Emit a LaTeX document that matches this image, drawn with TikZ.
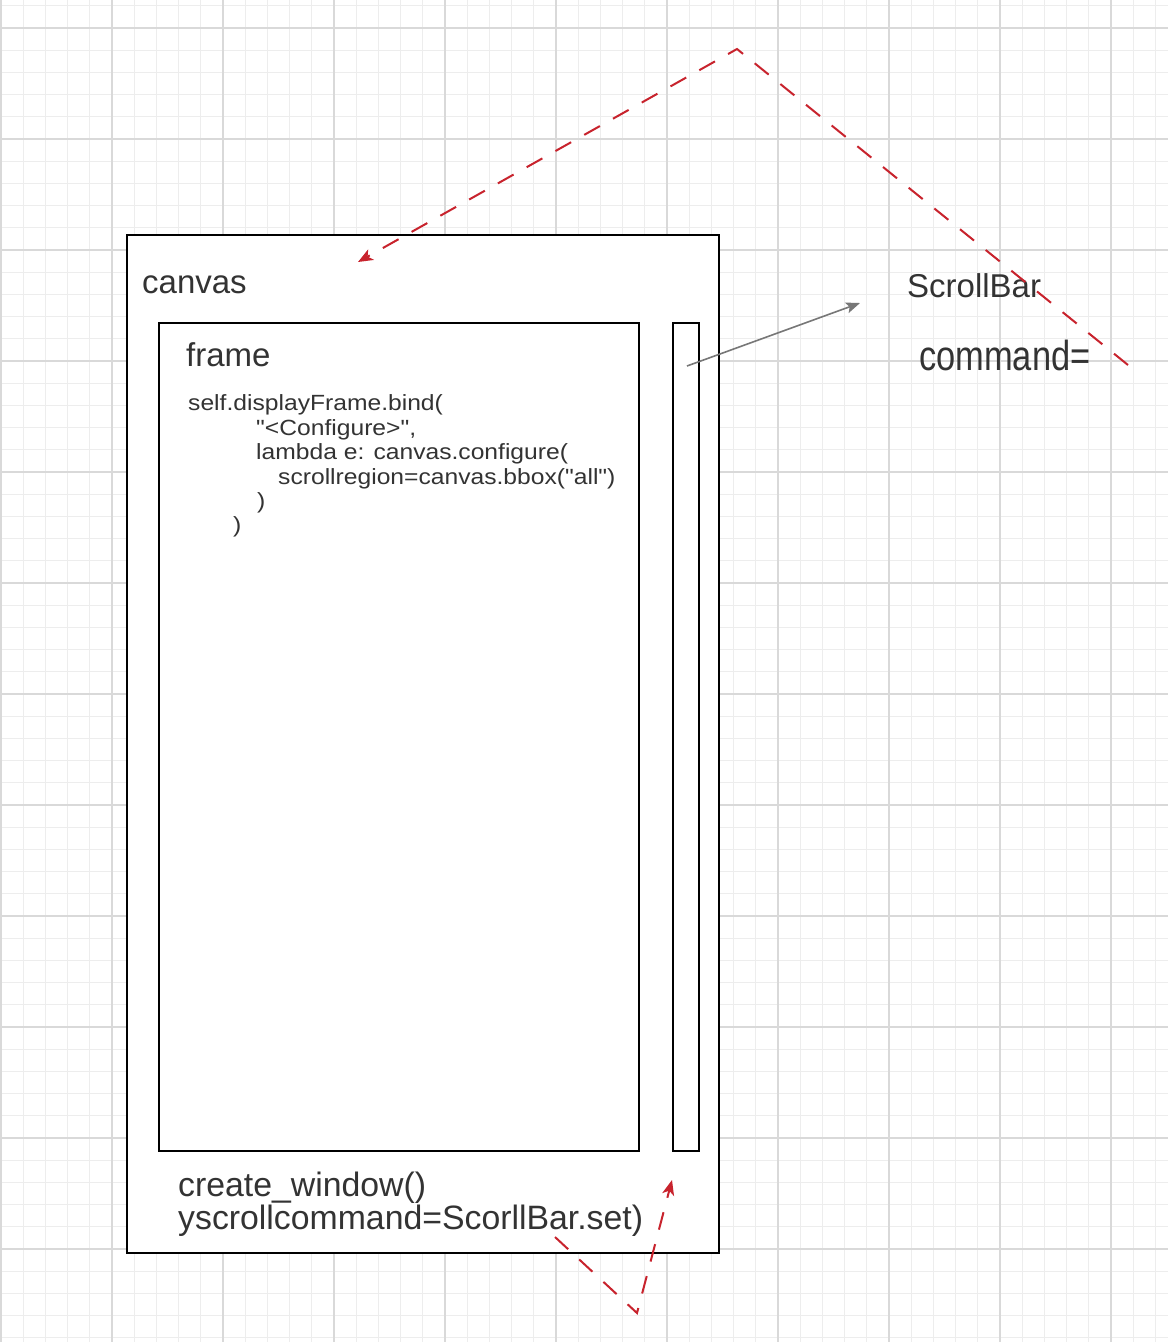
\documentclass[tikz,border=0pt]{standalone}
\usepackage{fontspec}
\setmainfont{Liberation Sans}
\usetikzlibrary{arrows.meta}
\definecolor{minorgrid}{HTML}{EDEDED}
\definecolor{majorgrid}{HTML}{D9D9D9}
\definecolor{txt}{HTML}{333333}
\definecolor{redline}{RGB}{200,35,45}
\definecolor{grayline}{HTML}{777777}
\tikzset{
  minorline/.style={draw=minorgrid, line width=1pt},
  majorline/.style={draw=majorgrid, line width=1.4pt},
  boxshape/.style={draw=black, fill=white, line width=2pt, rectangle, inner sep=0pt},
  lbl/.style={anchor=base west, inner sep=0pt, text=txt},
  bigtext/.style={lbl, font=\fontsize{33.8}{38}\selectfont},
  codetext/.style={lbl, font=\fontsize{22}{26}\selectfont, xscale=1.12},
  redarrow/.style={draw=redline, line width=2pt, dash pattern=on 18pt off 15pt,
    -{Stealth[length=15pt, width=12pt, inset=4pt]}},
  grayarrow/.style={draw=grayline, line width=1.6pt,
    -{Stealth[length=14pt, width=11pt, inset=3pt]}}
}
\begin{document}
\begin{tikzpicture}[x=1pt,y=-1pt]
\useasboundingbox (0,0) rectangle (1168,1342);
\fill[white] (0,0) rectangle (1168,1342);
% grid
\foreach \k in {0,...,52} { \path[minorline] ({1+22.2*\k},0) -- ({1+22.2*\k},1342); }
\foreach \k in {-1,...,59} { \path[minorline] (0,{28+22.2*\k}) -- (1168,{28+22.2*\k}); }
\foreach \k in {0,...,10} { \path[majorline] ({1+111*\k},0) -- ({1+111*\k},1342); }
\foreach \k in {0,...,11} { \path[majorline] (0,{28+111*\k}) -- (1168,{28+111*\k}); }
% boxes
\node[boxshape, minimum width=592pt, minimum height=1018pt] (canvas) at (423,744) {};
\node[boxshape, minimum width=480pt, minimum height=828pt] (frame) at (399,737) {};
\node[boxshape, minimum width=26pt, minimum height=828pt] (scrollbar) at (686,737) {};
% labels
\node[bigtext, font=\fontsize{33}{38}\selectfont] (canvaslbl) at (142,293) {canvas};
\node[bigtext, font=\fontsize{33}{38}\selectfont] (framelbl) at (186,366) {frame};
\node[bigtext, font=\fontsize{33}{38}\selectfont] (sblbl) at (907,297) {ScrollBar};
\node[lbl, font=\fontsize{42}{48}\selectfont, xscale=0.82] (cmdlbl) at (919,370) {command=};
\node[codetext] (code1) at (188,410) {self.displayFrame.bind(};
\node[codetext] (code2) at (256,435) {\textquotedbl<Configure>\textquotedbl,};
\node[codetext] (code3) at (256,459) {lambda e: canvas.configure(};
\node[codetext] (code4) at (278,484) {scrollregion=canvas.bbox(\textquotedbl all\textquotedbl)};
\node[codetext] (code5) at (257,508) {)};
\node[codetext] (code6) at (233,532) {)};
\node[bigtext] (cw1) at (178,1196) {create\_window()};
\node[bigtext] (cw2) at (178,1229) {yscrollcommand=ScorllBar.set)};
% connector coordinates
\coordinate (gstart) at (687,366);
\coordinate (gend) at (860,303);
\coordinate (r1start) at (1128,365);
\coordinate (r1peak) at (737,49);
\coordinate (r1end) at (358,262);
\coordinate (r2start) at (555,1237);
\coordinate (r2low) at (637,1313);
\coordinate (r2end) at (672,1180);
% connectors
\path[grayarrow] (gstart) -- (gend);
\path[redarrow] (r1start) -- (r1peak) -- (r1end);
\path[redarrow] (r2start) -- (r2low) -- (r2end);
\end{tikzpicture}
\end{document}
